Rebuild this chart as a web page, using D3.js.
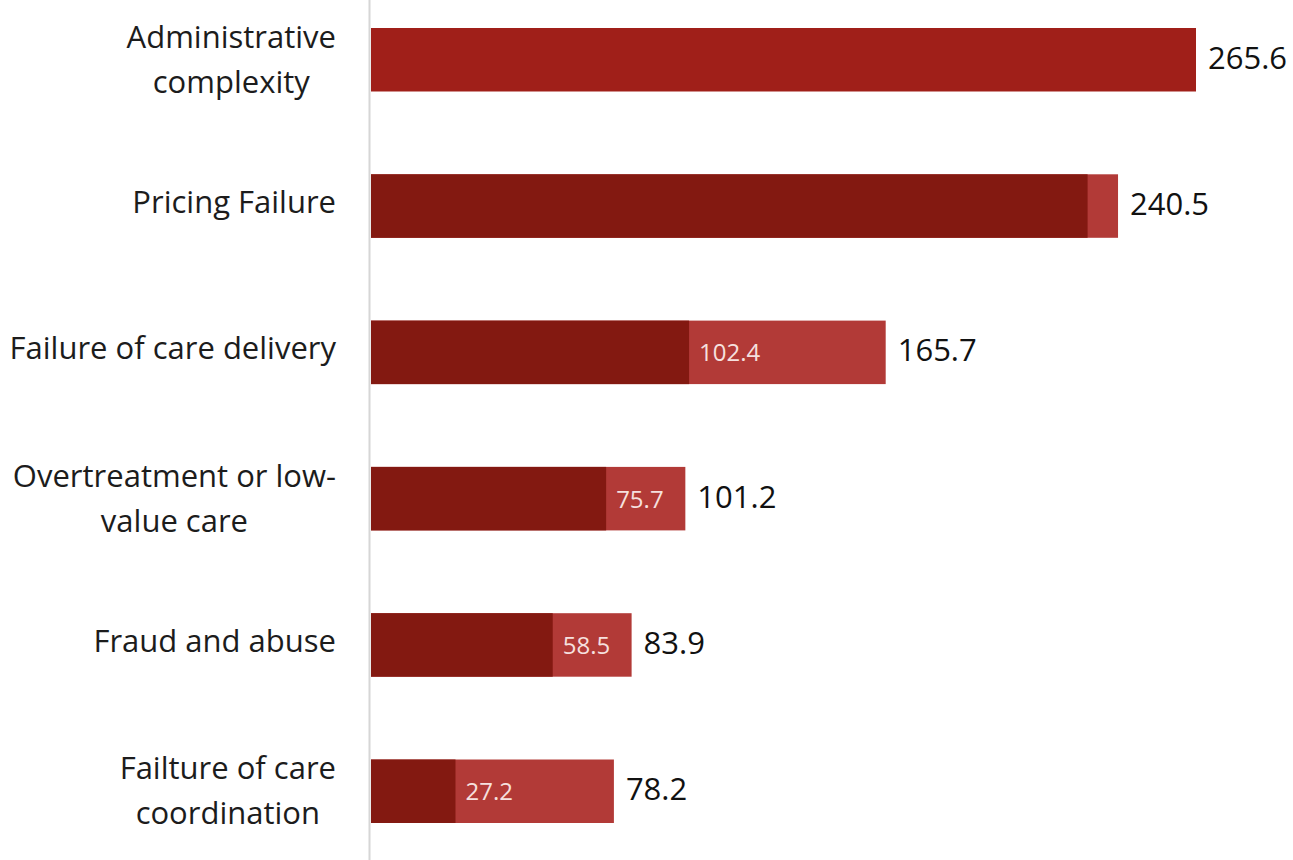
<!DOCTYPE html>
<html>
<head>
<meta charset="utf-8">
<script src="https://cdn.jsdelivr.net/npm/d3@7"></script>
<style>
  html, body { margin: 0; padding: 0; background: #ffffff; }
  svg { display: block; }
  .cat-label { font-family: "Open Sans", Lato, sans-serif; fill: #1c1c1c; }
  .total-label { font-family: "Open Sans", Lato, sans-serif; fill: #111111; font-weight: 500; }
  .low-label { font-family: "Open Sans", Lato, sans-serif; fill: #f6e0df; }
</style>
</head>
<body>
<svg id="chart" width="1293" height="860"></svg>
<script>
// Categories of spending, each label split into its display lines
const categories = [
  "Administrative complexity",
  "Pricing Failure",
  "Failure of care delivery",
  "Overtreatment or low-value care",
  "Fraud and abuse",
  "Failture of care coordination"
];
const categoryLines = [
  ["Administrative", "complexity"],
  ["Pricing Failure"],
  ["Failure of care delivery"],
  ["Overtreatment or low-", "value care"],
  ["Fraud and abuse"],
  ["Failture of care", "coordination"]
];
// Lower and upper estimates (billions of dollars)
const lowEstimate  = [265.6, 230.7, 102.4, 75.7, 58.5, 27.2];
const highEstimate = [265.6, 240.5, 165.7, 101.2, 83.9, 78.2];
// Which lower estimates get an in-bar label
const showLowLabel = [false, false, true, true, true, true];

const rows = categories.map((c, i) => ({
  cat: c, lines: categoryLines[i], low: lowEstimate[i], high: highEstimate[i], showLow: showLowLabel[i]
}));

const svg = d3.select("#chart");
const x0 = 371;

const x = d3.scaleLinear().domain([0, 265.6]).range([x0, 1196]);
const y = d3.scaleBand().domain(categories).range([28, 823]).paddingInner(0.566).paddingOuter(0);

const colorSingle = "#a01f19";
const colorLow = "#831911";
const colorHigh = "#b23a37";

// Axis line at zero
svg.append("line")
  .attr("x1", x0 - 1.5).attr("x2", x0 - 1.5)
  .attr("y1", 0).attr("y2", 860)
  .attr("stroke", "#d6d6d6").attr("stroke-width", 2);

const g = svg.append("g");

// Upper-range segment (drawn full length, lower estimate overlays it)
g.selectAll("rect.bar-high").data(rows).join("rect")
  .attr("class", "bar-high")
  .attr("x", x(0))
  .attr("y", d => y(d.cat))
  .attr("width", d => x(d.high) - x(0))
  .attr("height", y.bandwidth())
  .attr("fill", d => d.low === d.high ? colorSingle : colorHigh);

g.selectAll("rect.bar-low").data(rows.filter(d => d.low !== d.high)).join("rect")
  .attr("class", "bar-low")
  .attr("x", x(0))
  .attr("y", d => y(d.cat))
  .attr("width", d => x(d.low) - x(0))
  .attr("height", y.bandwidth())
  .attr("fill", colorLow);

// Upper estimate value at the bar end
g.selectAll("text.total-label").data(rows).join("text")
  .attr("class", "total-label")
  .attr("x", d => x(d.high) + 12)
  .attr("y", d => y(d.cat) + y.bandwidth() / 2 + 9)
  .attr("font-size", 31)
  .text(d => d.high.toFixed(1));

// Lower estimate label inside the lighter segment
g.selectAll("text.low-label").data(rows.filter(d => d.showLow)).join("text")
  .attr("class", "low-label")
  .attr("x", d => x(d.low) + 10)
  .attr("y", d => y(d.cat) + y.bandwidth() / 2 + 9)
  .attr("font-size", 24)
  .text(d => d.low.toFixed(1));

// Category labels: lines centred on each other, widest line flush at the right edge
const labelRight = 336;
const lineHeight = 45;
rows.forEach(d => {
  const cy = y(d.cat) + y.bandwidth() / 2;
  const t = svg.append("text").attr("class", "cat-label").attr("font-size", 31);
  const n = d.lines.length;
  const base = n > 1 ? 10.5 : 7;
  const spans = d.lines.map((ln, j) => t.append("tspan")
    .attr("y", cy + base + (j - (n - 1) / 2) * lineHeight)
    .text(ln));
  const widths = spans.map(s => s.node().getComputedTextLength());
  const maxW = d3.max(widths);
  const cx = labelRight - maxW / 2;
  spans.forEach(s => s.attr("x", cx).attr("text-anchor", "middle"));
});
</script>
</body>
</html>
